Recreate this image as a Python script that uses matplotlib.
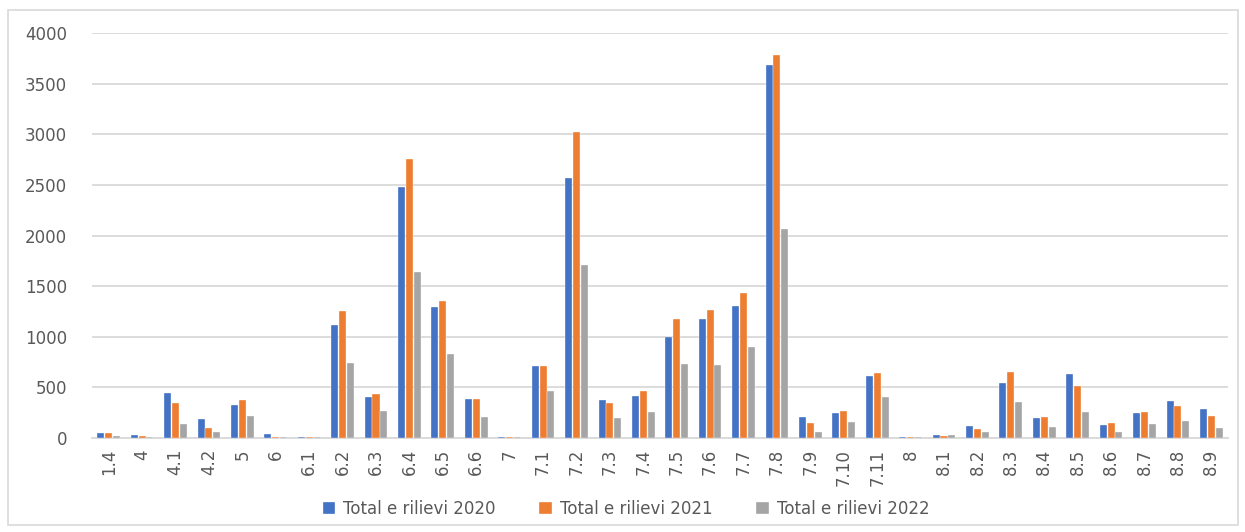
import matplotlib
matplotlib.use("Agg")
import matplotlib.pyplot as plt
import numpy as np
from matplotlib.patches import Rectangle

categories = ["1.4", "4", "4.1", "4.2", "5", "6", "6.1", "6.2", "6.3", "6.4",
              "6.5", "6.6", "7", "7.1", "7.2", "7.3", "7.4", "7.5", "7.6", "7.7",
              "7.8", "7.9", "7.10", "7.11", "8", "8.1", "8.2", "8.3", "8.4", "8.5",
              "8.6", "8.7", "8.8", "8.9"]

rilievi_2020 = [53, 27, 448, 187, 321, 37, 10, 1116, 408, 2480,
                1293, 385, 13, 707, 2563, 375, 411, 997, 1178, 1303,
                3686, 208, 247, 613, 10, 26, 122, 544, 201, 633,
                132, 247, 362, 287]
rilievi_2021 = [53, 17, 341, 94, 378, 10, 10, 1257, 438, 2757,
                1349, 385, 13, 707, 3025, 342, 461, 1178, 1263, 1434,
                3784, 150, 267, 639, 10, 16, 92, 649, 211, 517,
                152, 260, 313, 221]
rilievi_2022 = [17, 10, 140, 57, 217, 10, 10, 742, 267, 1638,
                826, 204, 7, 461, 1704, 194, 260, 727, 717, 901,
                2069, 62, 161, 408, 10, 26, 56, 353, 112, 260,
                56, 142, 171, 102]

series_labels = ["Total e rilievi 2020", "Total e rilievi 2021", "Total e rilievi 2022"]
colors = ["#4472C4", "#ED7D31", "#A5A5A5"]
yticks = [0, 500, 1000, 1500, 2000, 2500, 3000, 3500, 4000]

W, H = 1245, 532
fig = plt.figure(figsize=(W / 100, H / 100), dpi=100)
fig.patch.set_facecolor("white")

# outer chart frame
fig.add_artist(Rectangle((8 / W, 1 - 525 / H), (1238 - 8) / W, (525 - 10) / H,
                         transform=fig.transFigure, fill=False,
                         edgecolor="#D9D9D9", linewidth=1.2))

ax = fig.add_axes([92 / W, 1 - 438 / H, (1228 - 92) / W, (438 - 33) / H])

x = np.arange(len(categories))
bw = 0.21
gap = 0.025
for i, (vals, col, lab) in enumerate(zip([rilievi_2020, rilievi_2021, rilievi_2022],
                                         colors, series_labels)):
    offs = (i - 1) * (bw + gap)
    ax.bar(x + offs, vals, width=bw, color=col, label=lab,
           edgecolor="white", linewidth=0.25, zorder=3)

ax.set_xlim(-0.5, len(categories) - 0.5)
ax.set_ylim(0, 4000)
ax.set_yticks(yticks)
ax.set_yticklabels([str(v) for v in yticks])
ax.set_xticks(x)
ax.set_xticklabels(categories, rotation=90)

ax.grid(axis="y", color="#D9D9D9", linewidth=1.3, zorder=0)
for s in ["top", "right", "left"]:
    ax.spines[s].set_visible(False)
ax.spines["bottom"].set_color("#D9D9D9")
ax.spines["bottom"].set_linewidth(1.3)

ax.tick_params(axis="both", length=0, labelcolor="#595959", labelsize=12)
ax.tick_params(axis="y", pad=18)
ax.tick_params(axis="x", pad=8)

fig.legend(loc="center", bbox_to_anchor=(626 / W, 1 - 509 / H), ncol=3,
           frameon=False, fontsize=12, labelcolor="#595959",
           handlelength=0.75, handleheight=0.75, columnspacing=2.6,
           handletextpad=0.5)

fig.savefig("out.png", dpi=100, facecolor="white")
